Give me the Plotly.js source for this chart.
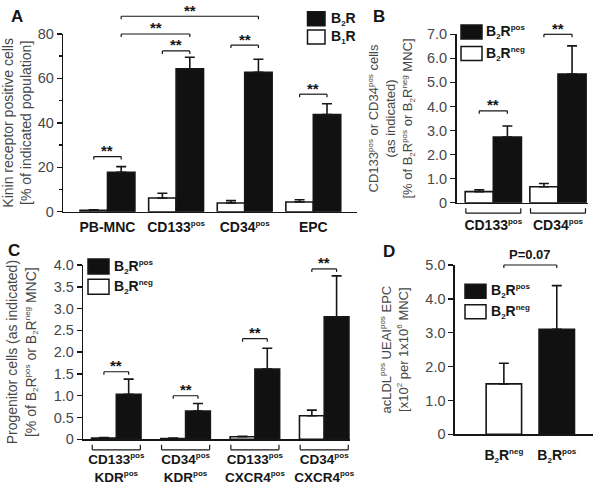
<!DOCTYPE html>
<html><head><meta charset="utf-8">
<script src="https://cdn.plot.ly/plotly-3.0.1.min.js"></script>
<style>html,body{margin:0;padding:0;background:#fff}#chart{width:601px;height:492px}</style>
</head><body><div id="chart"></div>
<script>
// ---------- Panel A ----------
const catsA = ['PB-MNC', 'CD133<sup>pos</sup>', 'CD34<sup>pos</sup>', 'EPC'];
const b1rA = [0.6, 6.2, 3.9, 4.4];
const b1rErrA = [0.3, 2.1, 1.1, 1.0];
const b2rA = [17.7, 64.3, 62.8, 43.7];
const b2rErrA = [2.6, 5.2, 5.8, 4.9];
const ticksA = [0, 20, 40, 60, 80];
const sigA_from = [[0,0],[1,0],[2,0],[3,0],[0,1],[0,1]];
const sigA_to   = [[0,1],[1,1],[2,1],[3,1],[1,1],[2,1]];
const sigA_y    = [24.8, 72.4, 75.0, 52.9, 80.0, 88.0];
const sigA_text = ['**','**','**','**','**','**'];

// ---------- Panel B ----------
const catsB = ['CD133<sup>pos</sup>', 'CD34<sup>pos</sup>'];
const negB = [0.46, 0.66];
const negErrB = [0.08, 0.14];
const posB = [2.73, 5.35];
const posErrB = [0.46, 1.17];
const ticksB = [0, 1, 2, 3, 4, 5, 6, 7];
const tickTextB = ['0', '1.0', '2.0', '3.0', '4.0', '5.0', '6.0', '7.0'];
const sigB_from = [[0,0],[1,0]];
const sigB_to   = [[0,1],[1,1]];
const sigB_y    = [3.82, 7.0];
const sigB_text = ['**','**'];

// ---------- Panel C ----------
const catsC = ['CD133<sup>pos</sup><br>KDR<sup>pos</sup>', 'CD34<sup>pos</sup><br>KDR<sup>pos</sup>',
               'CD133<sup>pos</sup><br>CXCR4<sup>pos</sup>', 'CD34<sup>pos</sup><br>CXCR4<sup>pos</sup>'];
const negC = [0.03, 0.02, 0.06, 0.54];
const negErrC = [0.01, 0.01, 0.01, 0.13];
const posC = [1.03, 0.65, 1.61, 2.81];
const posErrC = [0.35, 0.17, 0.48, 0.94];
const ticksC = [0, 0.5, 1, 1.5, 2, 2.5, 3, 3.5, 4];
const tickTextC = ['0', '0.5', '1.0', '1.5', '2.0', '2.5', '3.0', '3.5', '4.0'];
const sigC_from = [[0,0],[1,0],[2,0],[3,0]];
const sigC_to   = [[0,1],[1,1],[2,1],[3,1]];
const sigC_y    = [1.55, 1.0, 2.31, 3.91];
const sigC_text = ['**','**','**','**'];

// ---------- Panel D ----------
const catsD = ['B<sub>2</sub>R<sup>neg</sup>', 'B<sub>2</sub>R<sup>pos</sup>'];
const negD = [1.49];
const negErrD = [0.61];
const posD = [3.10];
const posErrD = [1.29];
const ticksD = [0, 1, 2, 3, 4, 5];
const tickTextD = ['0', '1.0', '2.0', '3.0', '4.0', '5.0'];
const sigD_from = [0];
const sigD_to   = [1];
const sigD_y    = [5.0];
const sigD_text = ['P=0.07'];

// ---------- styling / geometry ----------
const W = 601, H = 492;
const FONT = 'Liberation Sans, Arial, Helvetica, sans-serif';
const INK = '#161616';
const GRAY = '#474747';
const px = v => v / W;
const py = v => 1 - v / H;
// shrink superscripts / subscripts to the small size used in the figure
const small = s => s.replace(/<sup>(.*?)<\/sup>/g, '<sup><span style="font-size:8px">$1</span></sup>')
                    .replace(/<sub>(.*?)<\/sub>/g, '<sub><span style="font-size:8px">$1</span></sub>');

const G = {
  A: {x: [63.3, 357], y: [34, 211.7], top: 80, xr: [-0.644, 3.637], w: 0.4, xa: 'x', ya: 'y'},
  B: {x: [456.7, 588], y: [34.3, 202.7], top: 7, xr: [-0.566, 1.464], w: 0.435, xa: 'x2', ya: 'y2'},
  C: {x: [83.3, 350], y: [265, 439.3], top: 4, xr: [-0.476, 3.372], w: 0.357, xa: 'x3', ya: 'y3'},
  D: {x: [455, 593], y: [265, 434.3], top: 5, xr: [-0.924, 1.685], w: 0.67, xa: 'x4', ya: 'y4'}
};

function errY(arr) {
  return {type: 'data', symmetric: false, array: arr, arrayminus: arr.map(() => 0),
          color: INK, thickness: 1.6, width: 5};
}
function barTrace(g, cats, vals, errs, fill, offset) {
  return {type: 'bar', x: cats, y: vals, xaxis: g.xa, yaxis: g.ya,
          width: g.w, offset: offset,
          marker: {color: fill, line: {color: INK, width: 1.6}},
          error_y: errY(errs), showlegend: false, hoverinfo: 'skip'};
}

const data = [
  barTrace(G.A, catsA, b1rA, b1rErrA, '#ffffff', -G.A.w),
  barTrace(G.A, catsA, b2rA, b2rErrA, '#111111', 0),
  barTrace(G.B, catsB, negB, negErrB, '#ffffff', -G.B.w),
  barTrace(G.B, catsB, posB, posErrB, '#111111', 0),
  barTrace(G.C, catsC, negC, negErrC, '#ffffff', -G.C.w),
  barTrace(G.C, catsC, posC, posErrC, '#111111', 0),
  barTrace(G.D, [catsD[0]], negD, negErrD, '#ffffff', -G.D.w / 2),
  barTrace(G.D, [catsD[1]], posD, posErrD, '#111111', -G.D.w / 2)
];

const shapes = [];
const annotations = [];

function domH(g) { return g.y[1] - g.y[0]; }

function addSig(g, from, to, ys, texts, grouped) {
  const t = 3 / domH(g);
  const yref = g.ya + ' domain';
  const pos = f => grouped ? f[0] + (f[1] === 0 ? -g.w / 2 : g.w / 2) : f;
  const line = {color: INK, width: 1.2};
  for (let i = 0; i < ys.length; i++) {
    const x0 = pos(from[i]), x1 = pos(to[i]);
    const yd = ys[i] / g.top;
    shapes.push({type: 'line', xref: g.xa, yref: yref, x0: x0, x1: x0, y0: yd - t, y1: yd, line: line});
    shapes.push({type: 'line', xref: g.xa, yref: yref, x0: x0, x1: x1, y0: yd, y1: yd, line: line});
    shapes.push({type: 'line', xref: g.xa, yref: yref, x0: x1, x1: x1, y0: yd - t, y1: yd, line: line});
    const isStar = texts[i] === '**';
    annotations.push({xref: g.xa, yref: yref, x: (x0 + x1) / 2, y: yd, text: texts[i],
      showarrow: false, yanchor: isStar ? 'middle' : 'bottom', yshift: isStar ? 6 : 1,
      font: {family: FONT, size: isStar ? 15 : 13, color: INK, weight: 'bold'}});
  }
}
addSig(G.A, sigA_from, sigA_to, sigA_y, sigA_text, true);
addSig(G.B, sigB_from, sigB_to, sigB_y, sigB_text, true);
addSig(G.C, sigC_from, sigC_to, sigC_y, sigC_text, true);
addSig(G.D, sigD_from, sigD_to, sigD_y, sigD_text, false);

// group brackets under the x axis (panels B and C)
function addGroupBrackets(g, n) {
  const yref = g.ya + ' domain';
  const h = domH(g);
  const yb = -10.5 / h, ye = -5.5 / h;
  const line = {color: INK, width: 1.2};
  for (let i = 0; i < n; i++) {
    const x0 = i - g.w + 0.01, x1 = i + g.w - 0.01;
    shapes.push({type: 'line', xref: g.xa, yref: yref, x0: x0, x1: x0, y0: ye, y1: yb, line: line});
    shapes.push({type: 'line', xref: g.xa, yref: yref, x0: x0, x1: x1, y0: yb, y1: yb, line: line});
    shapes.push({type: 'line', xref: g.xa, yref: yref, x0: x1, x1: x1, y0: ye, y1: yb, line: line});
  }
}
addGroupBrackets(G.B, catsB.length);
addGroupBrackets(G.C, catsC.length);

// legends drawn as boxes + labels
function addLegend(x0, x1, boxH, centers, textX, names, fills) {
  for (let i = 0; i < names.length; i++) {
    shapes.push({type: 'rect', xref: 'paper', yref: 'paper',
      x0: px(x0), x1: px(x1), y0: py(centers[i] + boxH / 2), y1: py(centers[i] - boxH / 2),
      fillcolor: fills[i], line: {color: INK, width: 1.5}});
    annotations.push({xref: 'paper', yref: 'paper', x: px(textX), y: py(centers[i]),
      xanchor: 'left', yanchor: 'middle', text: small(names[i]), showarrow: false,
      font: {family: FONT, size: 14, color: INK, weight: 'bold'}});
  }
}
const legNamesA = ['B<sub>2</sub>R', 'B<sub>1</sub>R'];
const legNamesBCD = ['B<sub>2</sub>R<sup>pos</sup>', 'B<sub>2</sub>R<sup>neg</sup>'];
const legFills = ['#111111', '#ffffff'];
addLegend(307.5, 325, 14, [18.8, 37], 328.5, legNamesA, legFills);
addLegend(461, 482, 14, [32, 53.5], 484, legNamesBCD, legFills);
addLegend(88, 109, 15, [266.5, 286.7], 112, legNamesBCD, legFills);
addLegend(465, 486, 14, [291.3, 311.7], 489, legNamesBCD, legFills);

// panel letters
[['A', 16.5, 16.5], ['B', 378.5, 16.5], ['C', 14, 250], ['D', 388.5, 251.5]].forEach(l => {
  annotations.push({xref: 'paper', yref: 'paper', x: px(l[1]), y: py(l[2]), text: l[0],
    showarrow: false, xanchor: 'center', yanchor: 'middle',
    font: {family: FONT, size: 17, color: INK, weight: 'bold'}});
});

function xAxis(g, cats, standoff, size) {
  return {domain: [px(g.x[0]), px(g.x[1])], range: g.xr, type: 'category',
    categoryorder: 'array', categoryarray: cats, anchor: g.ya,
    tickmode: 'array', tickvals: cats, ticktext: cats.map(small),
    showline: true, linecolor: INK, linewidth: 1.6, ticks: '', showgrid: false, zeroline: false,
    tickfont: {family: FONT, size: size, color: INK, weight: 'bold'},
    ticklabelstandoff: standoff, fixedrange: true};
}
function yAxis(g, vals, text, title, tsize, standoff, minor) {
  const a = {domain: [py(g.y[1]), py(g.y[0])], range: [0, g.top], anchor: g.xa,
    showline: true, linecolor: INK, linewidth: 1.6, ticks: 'outside', ticklen: 5,
    tickwidth: 1.5, tickcolor: INK, tickmode: 'array', tickvals: vals, ticktext: text,
    tickfont: {family: FONT, size: 14.5, color: GRAY}, showgrid: false, zeroline: false,
    title: {text: small(title), font: {family: FONT, size: tsize, color: GRAY}, standoff: standoff},
    fixedrange: true};
  if (minor) a.minor = minor;
  return a;
}

const layout = {
  width: W, height: H, margin: {l: 0, r: 0, t: 0, b: 0},
  paper_bgcolor: '#ffffff', plot_bgcolor: 'rgba(0,0,0,0)',
  barmode: 'overlay', showlegend: false,
  font: {family: FONT, color: INK},
  xaxis: xAxis(G.A, catsA, 2, 14),
  yaxis: yAxis(G.A, ticksA, ticksA.map(String),
    'Kinin receptor positive cells<br>[% of indicated population]', 14, 3,
    {tickmode: 'array', tickvals: [10, 30, 50, 70], ticks: 'outside', ticklen: 3, tickwidth: 1.5, tickcolor: INK}),
  xaxis2: xAxis(G.B, catsB, 9, 14),
  yaxis2: yAxis(G.B, ticksB, tickTextB,
    'CD133<sup>pos</sup> or CD34<sup>pos</sup> cells<br>(as indicated)<br>[% of B<sub>2</sub>R<sup>pos</sup> or B<sub>2</sub>R<sup>neg</sup> MNC]', 13, 11),
  xaxis3: xAxis(G.C, catsC, 7, 13.5),
  yaxis3: yAxis(G.C, ticksC, tickTextC,
    'Progenitor cells (as indicated)<br>[% of B<sub>2</sub>R<sup>pos</sup> or B<sub>2</sub>R<sup>neg</sup> MNC]', 14, 14),
  xaxis4: xAxis(G.D, catsD, 7, 14),
  yaxis4: yAxis(G.D, ticksD, tickTextD,
    'acLDL<sup>pos</sup> UEAI<sup>pos</sup> EPC<br>[x10<sup>2</sup> per 1x10<sup>6</sup> MNC]', 13, 14),
  shapes: shapes,
  annotations: annotations
};

Plotly.newPlot('chart', data, layout, {displayModeBar: false, staticPlot: true});
</script>
</body></html>
